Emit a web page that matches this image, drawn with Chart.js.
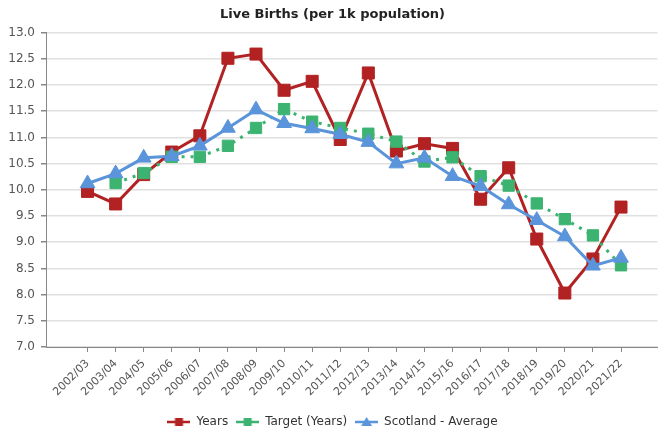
<!DOCTYPE html>
<html>
<head>
<meta charset="utf-8">
<title>Live Births (per 1k population)</title>
<script src="https://cdn.jsdelivr.net/npm/chart.js@4.4.1/dist/chart.umd.min.js"></script>
<style>
  html, body { margin: 0; padding: 0; background: #fff; }
</style>
</head>
<body>
<canvas id="births" width="667" height="430"></canvas>
<script>
// values
const years = ["2002/03", "2003/04", "2004/05", "2005/06", "2006/07", "2007/08", "2008/09",
    "2009/10", "2010/11", "2011/12", "2012/13", "2013/14", "2014/15", "2015/16",
    "2016/17", "2017/18", "2018/19", "2019/20", "2020/21", "2021/22"];
const birthRate = [9.97, 9.73, 10.29, 10.72, 11.03, 12.51, 12.59, 11.9, 12.07, 10.96,
    12.23, 10.74, 10.88, 10.79, 9.82, 10.42, 9.06, 8.03, 8.68, 9.67];
const targetRate = [null, 10.13, 10.32, 10.63, 10.63, 10.84, 11.18, 11.54, 11.3, 11.18,
    11.07, 10.92, 10.54, 10.62, 10.26, 10.08, 9.74, 9.44, 9.13, 8.56];
const scotlandAvg = [10.12, 10.31, 10.61, 10.64, 10.84, 11.18, 11.53, 11.27, 11.17, 11.06,
    10.91, 10.5, 10.61, 10.26, 10.07, 9.72, 9.42, 9.11, 8.55, 8.7];
const yTicks = [7.0, 7.5, 8.0, 8.5, 9.0, 9.5, 10.0, 10.5, 11.0, 11.5, 12.0, 12.5, 13.0];

const RED = "#b22222", GREEN = "#3cb371", BLUE = "#5a94da";

Chart.defaults.font.family = "'DejaVu Sans', sans-serif";
Chart.defaults.color = "#444";

// little line + marker images for the legend
function legendMarker(color, shape) {
    const c = document.createElement("canvas");
    c.width = 23;
    c.height = 12;
    const ctx = c.getContext("2d");
    ctx.strokeStyle = color;
    ctx.fillStyle = color;
    ctx.lineWidth = 2.5;
    ctx.beginPath();
    ctx.moveTo(0, 6);
    ctx.lineTo(23, 6);
    ctx.stroke();
    if (shape === "rect") {
        ctx.fillRect(7.5, 2, 8, 8);
    } else {
        ctx.beginPath();
        ctx.moveTo(11.5, 1);
        ctx.lineTo(17, 10);
        ctx.lineTo(6, 10);
        ctx.closePath();
        ctx.fill();
    }
    return c;
}
const markers = [legendMarker(RED, "rect"), legendMarker(GREEN, "rect"), legendMarker(BLUE, "triangle")];

// push the legend a bit lower than chart.js would put it
const legendNudge = {
    id: "legendNudge",
    afterLayout(chart) {
        chart.legend.top += 8;
        chart.legend.bottom += 8;
    }
};

const points = (arr) => arr.map((v, i) => ({ x: i, y: v }));

new Chart(document.getElementById("births"), {
    type: "line",
    data: {
        datasets: [
            {
                label: "Years",
                data: points(birthRate),
                borderColor: RED,
                backgroundColor: RED,
                borderWidth: 3,
                pointStyle: "rect",
                pointRadius: 8.5,
                pointBorderWidth: 1,
                order: 3
            },
            {
                label: "Target (Years)",
                data: points(targetRate),
                borderColor: GREEN,
                backgroundColor: GREEN,
                borderWidth: 3,
                borderDash: [3, 6],
                pointStyle: "rect",
                pointRadius: 8,
                pointBorderWidth: 1,
                order: 2
            },
            {
                label: "Scotland - Average",
                data: points(scotlandAvg),
                borderColor: BLUE,
                backgroundColor: BLUE,
                borderWidth: 3,
                pointStyle: "triangle",
                pointRadius: 8.5,
                pointBorderWidth: 1,
                order: 1
            }
        ]
    },
    options: {
        responsive: false,
        animation: false,
        layout: { padding: { left: 0, right: 2, top: 0, bottom: 0 } },
        plugins: {
            title: {
                display: true,
                text: "Live Births (per 1k population)",
                color: "#222",
                font: { size: 13, weight: "bold" },
                padding: { top: 7, bottom: 10 }
            },
            legend: {
                position: "bottom",
                labels: {
                    usePointStyle: true,
                    pointStyleWidth: 23,
                    padding: 8,
                    color: "#333",
                    font: { size: 12 },
                    generateLabels(chart) {
                        const items = Chart.defaults.plugins.legend.labels.generateLabels(chart);
                        items.sort((a, b) => a.datasetIndex - b.datasetIndex);
                        items.forEach(it => { it.pointStyle = markers[it.datasetIndex]; });
                        return items;
                    }
                }
            },
            tooltip: { enabled: false }
        },
        scales: {
            x: {
                type: "linear",
                min: -1.48,
                max: 20.3,
                afterBuildTicks(scale) {
                    scale.ticks = years.map((_, i) => ({ value: i }));
                },
                afterFit(scale) {
                    scale.height = 53;
                },
                ticks: {
                    autoSkip: false,
                    minRotation: 45,
                    maxRotation: 45,
                    padding: 5,
                    font: { size: 11 },
                    color: "#555",
                    callback: (v) => years[v]
                },
                grid: {
                    drawOnChartArea: false,
                    drawTicks: true,
                    tickLength: 5,
                    tickColor: "#888"
                },
                border: { display: true, color: "#888", width: 1 }
            },
            y: {
                min: 7,
                max: 13,
                afterBuildTicks(scale) {
                    scale.ticks = yTicks.map(v => ({ value: v }));
                },
                afterFit(scale) {
                    scale.width = 46;
                },
                ticks: {
                    padding: 6,
                    font: { size: 12 },
                    color: "#555",
                    callback: (v) => v.toFixed(1)
                },
                grid: {
                    color: "#e0e0e0",
                    lineWidth: 1.5,
                    tickLength: 5,
                    tickColor: "#888"
                },
                border: { display: true, color: "#888", width: 1 }
            }
        }
    },
    plugins: [legendNudge]
});
</script>
</body>
</html>
